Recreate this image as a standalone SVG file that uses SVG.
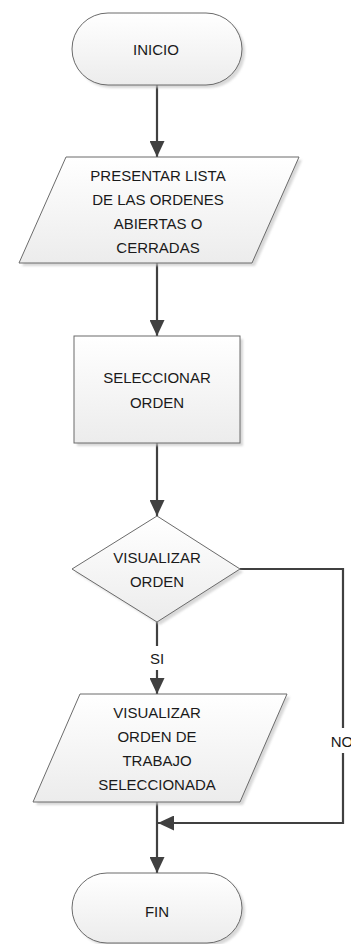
<svg xmlns="http://www.w3.org/2000/svg" width="351" height="944" viewBox="0 0 351 944">
  <style>
    .shape { fill: url(#nodeFill); stroke: #6b6b6b; stroke-width: 1; }
    .shadow { fill: #c8c8c8; opacity: 0.7; filter: url(#soft); }
    .label { font-family: "Liberation Sans", Arial, sans-serif; font-size: 15px; fill: #1a1a1a; text-anchor: middle; }
    .edge { fill: none; stroke: #404040; stroke-width: 2.2; }
  </style>
  <defs>
    <linearGradient id="nodeFill" x1="0" y1="0" x2="0" y2="1">
      <stop offset="0" stop-color="#ffffff"/>
      <stop offset="1" stop-color="#ececec"/>
    </linearGradient>
    <filter id="soft" x="-10%" y="-10%" width="120%" height="120%">
      <feGaussianBlur stdDeviation="1.2"/>
    </filter>
    <marker id="arrow" markerUnits="userSpaceOnUse" markerWidth="16" markerHeight="15" refX="16" refY="7.5" orient="auto">
      <path d="M0,0 L16,7.5 L0,15 Z" fill="#404040"/>
    </marker>
  </defs>

  <rect width="351" height="944" fill="#ffffff"/>

  <!-- connectors -->
  <g id="connectors">
    <line class="edge" x1="157" y1="85" x2="157" y2="157" marker-end="url(#arrow)"/>
    <line class="edge" x1="157" y1="263" x2="157" y2="336" marker-end="url(#arrow)"/>
    <line class="edge" x1="157" y1="443" x2="157" y2="516" marker-end="url(#arrow)"/>
    <!-- SI branch -->
    <line class="edge" x1="157" y1="622" x2="157" y2="646"/>
    <line class="edge" x1="157" y1="670" x2="157" y2="694" marker-end="url(#arrow)"/>
    <text class="label" x="157" y="664">SI</text>
    <!-- NO branch -->
    <polyline class="edge" points="240,569 343,569 343,728"/>
    <polyline class="edge" points="343,753 343,823 158,823" marker-end="url(#arrow)"/>
    <text class="label" x="342" y="747">NO</text>
    <!-- into FIN -->
    <line class="edge" x1="157" y1="802" x2="157" y2="873" marker-end="url(#arrow)"/>
  </g>

  <!-- start terminal -->
  <g id="inicio">
    <rect class="shadow" x="75" y="16" width="170" height="72" rx="36"/>
    <rect class="shape" x="72" y="13" width="170" height="72" rx="36"/>
    <text class="label" x="156" y="55">INICIO</text>
  </g>

  <!-- list input/output -->
  <g id="presentar-lista">
    <polygon class="shadow" points="69,160 302,160 255,266 22,266"/>
    <polygon class="shape" points="66,157 299,157 252,263 19,263"/>
    <text class="label" x="158" y="181">PRESENTAR LISTA</text>
    <text class="label" x="158" y="205">DE LAS ORDENES</text>
    <text class="label" x="158" y="229">ABIERTAS O</text>
    <text class="label" x="158" y="253">CERRADAS</text>
  </g>

  <!-- selection process -->
  <g id="seleccionar-orden">
    <rect class="shadow" x="77" y="339" width="166" height="107"/>
    <rect class="shape" x="74" y="336" width="166" height="107"/>
    <text class="label" x="157" y="383">SELECCIONAR</text>
    <text class="label" x="157" y="408">ORDEN</text>
  </g>

  <!-- decision -->
  <g id="visualizar-orden">
    <polygon class="shadow" points="160,519 243,572 160,625 75,572"/>
    <polygon class="shape" points="157,516 240,569 157,622 72,569"/>
    <text class="label" x="157" y="563">VISUALIZAR</text>
    <text class="label" x="157" y="587">ORDEN</text>
  </g>

  <!-- order display -->
  <g id="visualizar-trabajo">
    <polygon class="shadow" points="83,697 290,697 243,805 36,805"/>
    <polygon class="shape" points="80,694 287,694 240,802 33,802"/>
    <text class="label" x="157" y="718">VISUALIZAR</text>
    <text class="label" x="157" y="742">ORDEN DE</text>
    <text class="label" x="157" y="766">TRABAJO</text>
    <text class="label" x="157" y="790">SELECCIONADA</text>
  </g>

  <!-- end terminal -->
  <g id="fin">
    <rect class="shadow" x="75" y="876" width="170" height="70" rx="35"/>
    <rect class="shape" x="72" y="873" width="170" height="70" rx="35"/>
    <text class="label" x="157" y="917">FIN</text>
  </g>
</svg>
